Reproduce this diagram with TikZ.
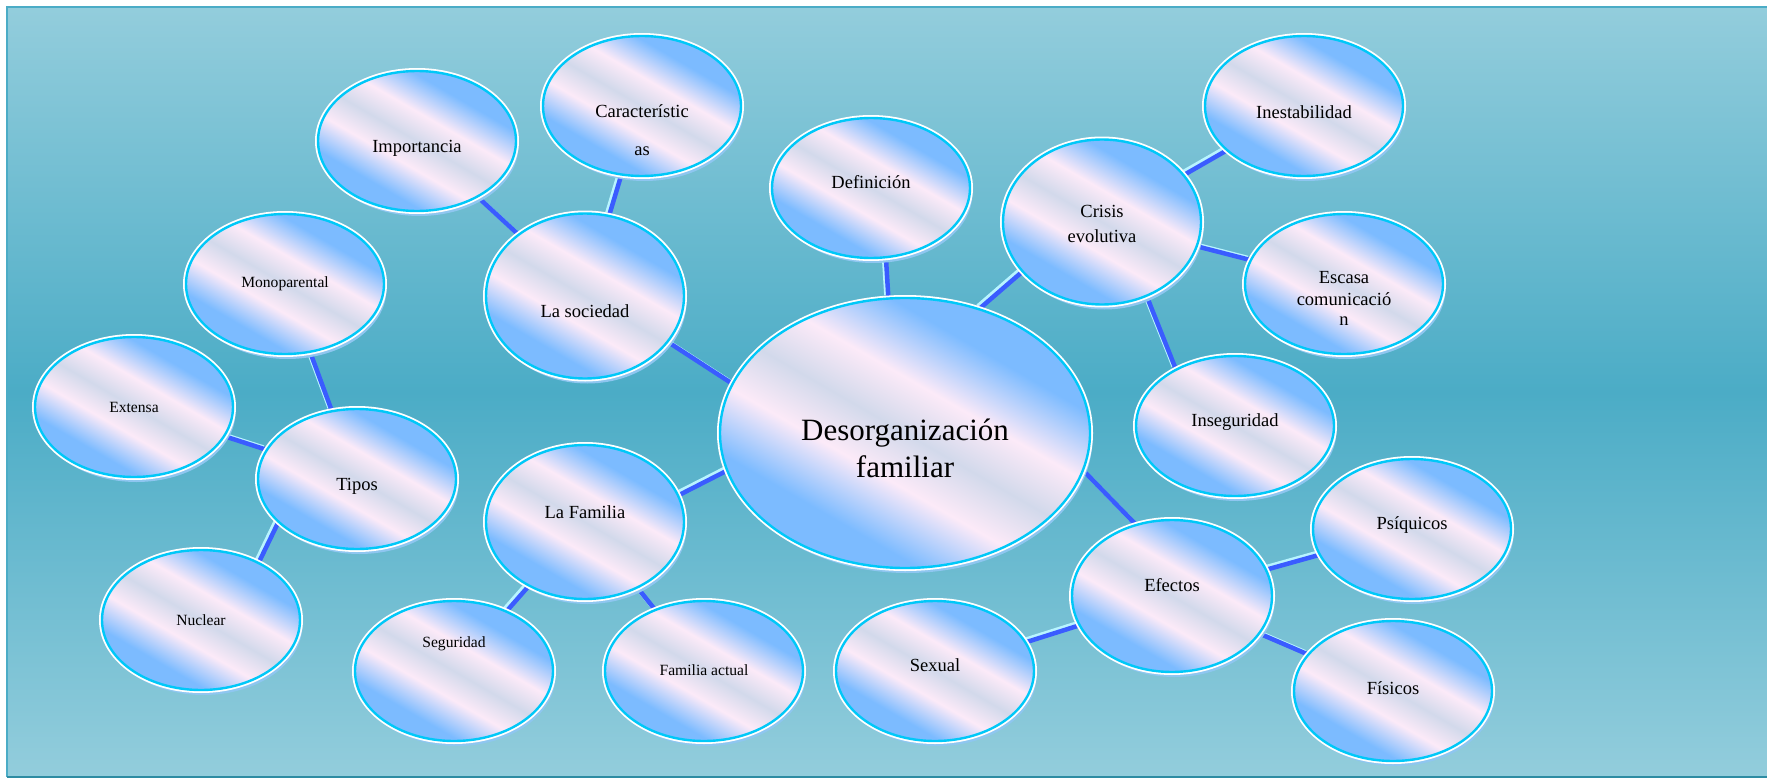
\documentclass[tikz,border=0pt]{standalone}
\usepackage{fontspec}
\setmainfont{Liberation Serif}
\usetikzlibrary{shapes.geometric,shadows}

\definecolor{bgedge}{HTML}{93CDDC}
\definecolor{bgmid}{HTML}{4BACC6}
\definecolor{frame}{HTML}{4BACC6}
\definecolor{framedark}{HTML}{2E8CA3}
\definecolor{bblue}{HTML}{7CBBFF}
\definecolor{bpink}{HTML}{FCEAF8}
\definecolor{bgray}{HTML}{D2D9EB}
\definecolor{rim}{HTML}{00C8F8}
\definecolor{halo}{HTML}{8EC6F0}
\definecolor{linkblue}{HTML}{3A5CFF}
\definecolor{linkglow}{HTML}{B8F4FF}

\pgfdeclarehorizontalshading{bubbleshade}{100bp}{color(0bp)=(bblue); color(32bp)=(bblue); color(42bp)=(bpink); color(50bp)=(bgray); color(58bp)=(bpink); color(68bp)=(bblue); color(100bp)=(bblue)}
\pgfdeclarelayer{back}
\pgfsetlayers{back,main}

% text lines, baseline of the first line raised by #1 from the bubble centre
\newcommand{\raisetext}[2]{\raisebox{#1}[0pt][0pt]{\begin{tabular}[t]{@{}c@{}}#2\end{tabular}}}

\begin{document}
\begin{tikzpicture}[x=1pt,y=-1pt]
  \tikzstyle{every node}=[font=\fontsize{18.5}{22}\selectfont]
  \tikzstyle{bubble}=[ellipse, inner sep=0pt, minimum width=198pt, minimum height=140pt,
    general shadow={fill=halo, shadow xshift=2.5pt, shadow yshift=-5pt},
    preaction={draw=white, line width=6pt},
    draw=rim, line width=2.4pt, shading=bubbleshade, shading angle=60]
  \tikzstyle{small}=[font=\fontsize{15.6}{19}\selectfont]
  \tikzstyle{link}=[draw=linkblue, line width=4.5pt,
    preaction={draw=linkglow, line width=4pt, transform canvas={shift={(-2.2pt,2.2pt)}}}]

  \useasboundingbox (0,0) rectangle (1767,779);

 \node[bubble, minimum width=370pt, minimum height=270pt, font=\fontsize{31}{37}\selectfont] (df) at (905,433) {\raisetext{-7pt}{Desorganización\\familiar}};

 \node[bubble, minimum height=165pt] (soc) at (585,296) {\raisetext{-21pt}{La sociedad}};
 \node[bubble] (imp) at (417,141) {\raisetext{-11pt}{Importancia}};
 \node[bubble] (car) at (642,106) {\raisetext{-11pt}{Característic\\[16pt]as}};
 \node[bubble] (def) at (871,188) {\raisetext{0pt}{Definición}};

 \node[bubble, minimum height=165pt] (cri) at (1102,222) {\raisetext{5pt}{Crisis\\[3pt]evolutiva}};
 \node[bubble] (ine) at (1304,106) {\raisetext{-12pt}{Inestabilidad}};
 \node[bubble] (esc) at (1344,284) {\raisetext{1pt}{Escasa\\comunicació\\[-2pt]n}};
 \node[bubble] (ins) at (1235,426) {\raisetext{0pt}{Inseguridad}};

 \node[bubble, minimum width=200pt, minimum height=152pt] (efe) at (1172,596) {\raisetext{5pt}{Efectos}};
 \node[bubble] (psi) at (1412,529) {\raisetext{0pt}{Psíquicos}};
 \node[bubble] (fis) at (1393,691) {\raisetext{-3pt}{Físicos}};
 \node[bubble] (sex) at (935,671) {\raisetext{0pt}{Sexual}};

 \node[bubble, minimum height=154pt] (fam) at (585,522) {\raisetext{4pt}{La Familia}};
 \node[bubble, small] (seg) at (454,671) {\raisetext{24pt}{Seguridad}};
 \node[bubble, small] (act) at (704,671) {\raisetext{-4pt}{Familia actual}};

 \node[bubble] (tip) at (357,479) {\raisetext{-11pt}{Tipos}};
 \node[bubble, small] (mon) at (285,284) {\raisetext{-3pt}{Monoparental}};
 \node[bubble, small] (ext) at (134,407) {\raisetext{-5pt}{Extensa}};
 \node[bubble, small] (nuc) at (201,620) {\raisetext{-5pt}{Nuclear}};

 \begin{pgfonlayer}{back}
  \fill[white] (0,0) rectangle (1767,779);
  \shade[top color=bgedge, bottom color=bgedge, middle color=bgmid] (7,7) rectangle (1770,777);
  \draw[frame, line width=1.5pt] (7,777) -- (7,7) -- (1770,7);
  \draw[framedark, line width=2.5pt] (7,777) -- (1770,777);

  \draw[link] (imp) -- (soc);
  \draw[link] (car) -- (soc);
  \draw[link] (soc.-29) -- (df.164);
  \draw[link] (def.-78) -- (df.97);
  \draw[link] (cri.212) -- (df.59);
  \draw[link] (cri) -- (ine);
  \draw[link] (cri) -- (esc);
  \draw[link] (cri.-59) -- (ins.136);
  \draw[link] (df.-12) -- (efe.117);
  \draw[link] (efe) -- (psi);
  \draw[link] (efe) -- (fis);
  \draw[link] (efe) -- (sex);
  \draw[link] (df.-168) -- (fam.16);
  \draw[link] (fam) -- (seg);
  \draw[link] (fam) -- (act);
  \draw[link] (mon) -- (tip);
  \draw[link] (ext) -- (tip);
  \draw[link] (tip.209) -- (nuc.45);
 \end{pgfonlayer}

\end{tikzpicture}
\end{document}
